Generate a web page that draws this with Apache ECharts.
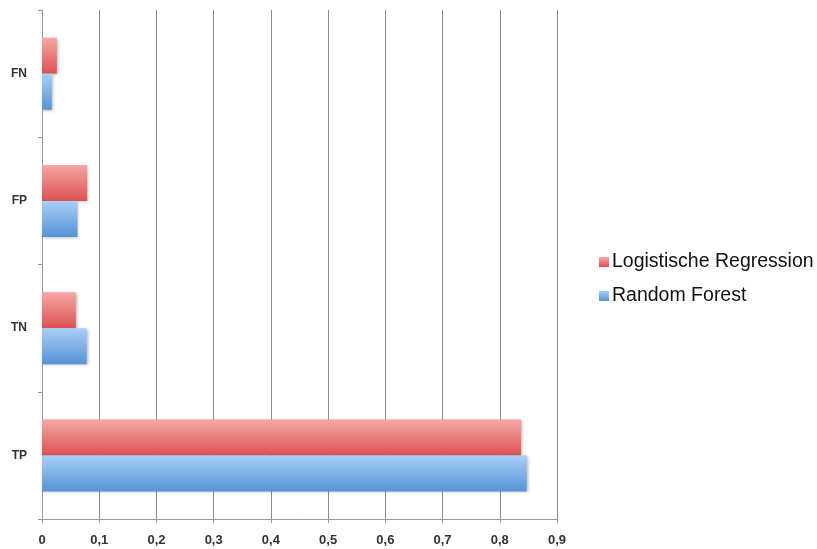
<!DOCTYPE html>
<html>
<head>
<meta charset="utf-8">
<script src="https://cdn.jsdelivr.net/npm/echarts@6/dist/echarts.min.js"></script>
<style>html,body{margin:0;padding:0;background:#fff}#c{width:817px;height:549px}</style>
</head>
<body>
<div id="c"></div>
<script>
const categories = ['TP', 'TN', 'FP', 'FN'];
const logRegValues = [0.837, 0.059, 0.079, 0.026];
const randomForestValues = [0.847, 0.078, 0.062, 0.017];
const seriesNames = ['Logistische Regression', 'Random Forest'];

const chart = echarts.init(document.getElementById('c'));
function grad(top, bottom) {
  return new echarts.graphic.LinearGradient(0, 0, 0, 1, [
    { offset: 0, color: top }, { offset: 1, color: bottom }
  ]);
}
const redGrad = grad('#f6a7a7', '#dc5252');
const blueGrad = grad('#a9cff8', '#5693d6');
const shadow = { shadowColor: 'rgba(0,0,0,0.3)', shadowBlur: 3, shadowOffsetX: 1, shadowOffsetY: 1 };
const fmt = v => v === 0 ? '0' : String(+v.toFixed(1)).replace('.', ',');

chart.setOption({
  animation: false,
  grid: { left: 42, right: 260, top: 10, bottom: 30, containLabel: false },
  legend: {
    orient: 'vertical', left: 594, top: 247,
    data: seriesNames,
    itemWidth: 10, itemHeight: 10, itemGap: 14, icon: 'rect',
    textStyle: { fontFamily: 'Liberation Sans', fontSize: 19.5, color: '#111', padding: [0, 0, 0, -2] }
  },
  xAxis: {
    type: 'value', min: 0, max: 0.9, interval: 0.1,
    axisLine: { show: true, lineStyle: { color: '#999', width: 1 } },
    axisTick: { show: true, length: 4, lineStyle: { color: '#999' } },
    splitLine: { show: true, lineStyle: { color: '#8a8a8a', width: 1 } },
    axisLabel: { formatter: fmt, margin: 15, fontFamily: 'Liberation Sans', fontWeight: 'bold', fontSize: 13, color: '#333' }
  },
  yAxis: {
    type: 'category', data: categories,
    axisLine: { show: true, lineStyle: { color: '#999', width: 1 } },
    axisTick: { show: true, length: 4, lineStyle: { color: '#999' } },
    axisLabel: { margin: 15, fontFamily: 'Liberation Sans', fontWeight: 'bold', fontSize: 12, color: '#333' }
  },
  series: [
    {
      name: seriesNames[0], type: 'bar', data: logRegValues,
      itemStyle: Object.assign({ color: redGrad }, shadow),
      barWidth: 36, barGap: '0%'
    },
    {
      name: seriesNames[1], type: 'bar', data: randomForestValues,
      itemStyle: Object.assign({ color: blueGrad }, shadow),
      barWidth: 36, barGap: '0%'
    }
  ]
});
</script>
</body>
</html>
